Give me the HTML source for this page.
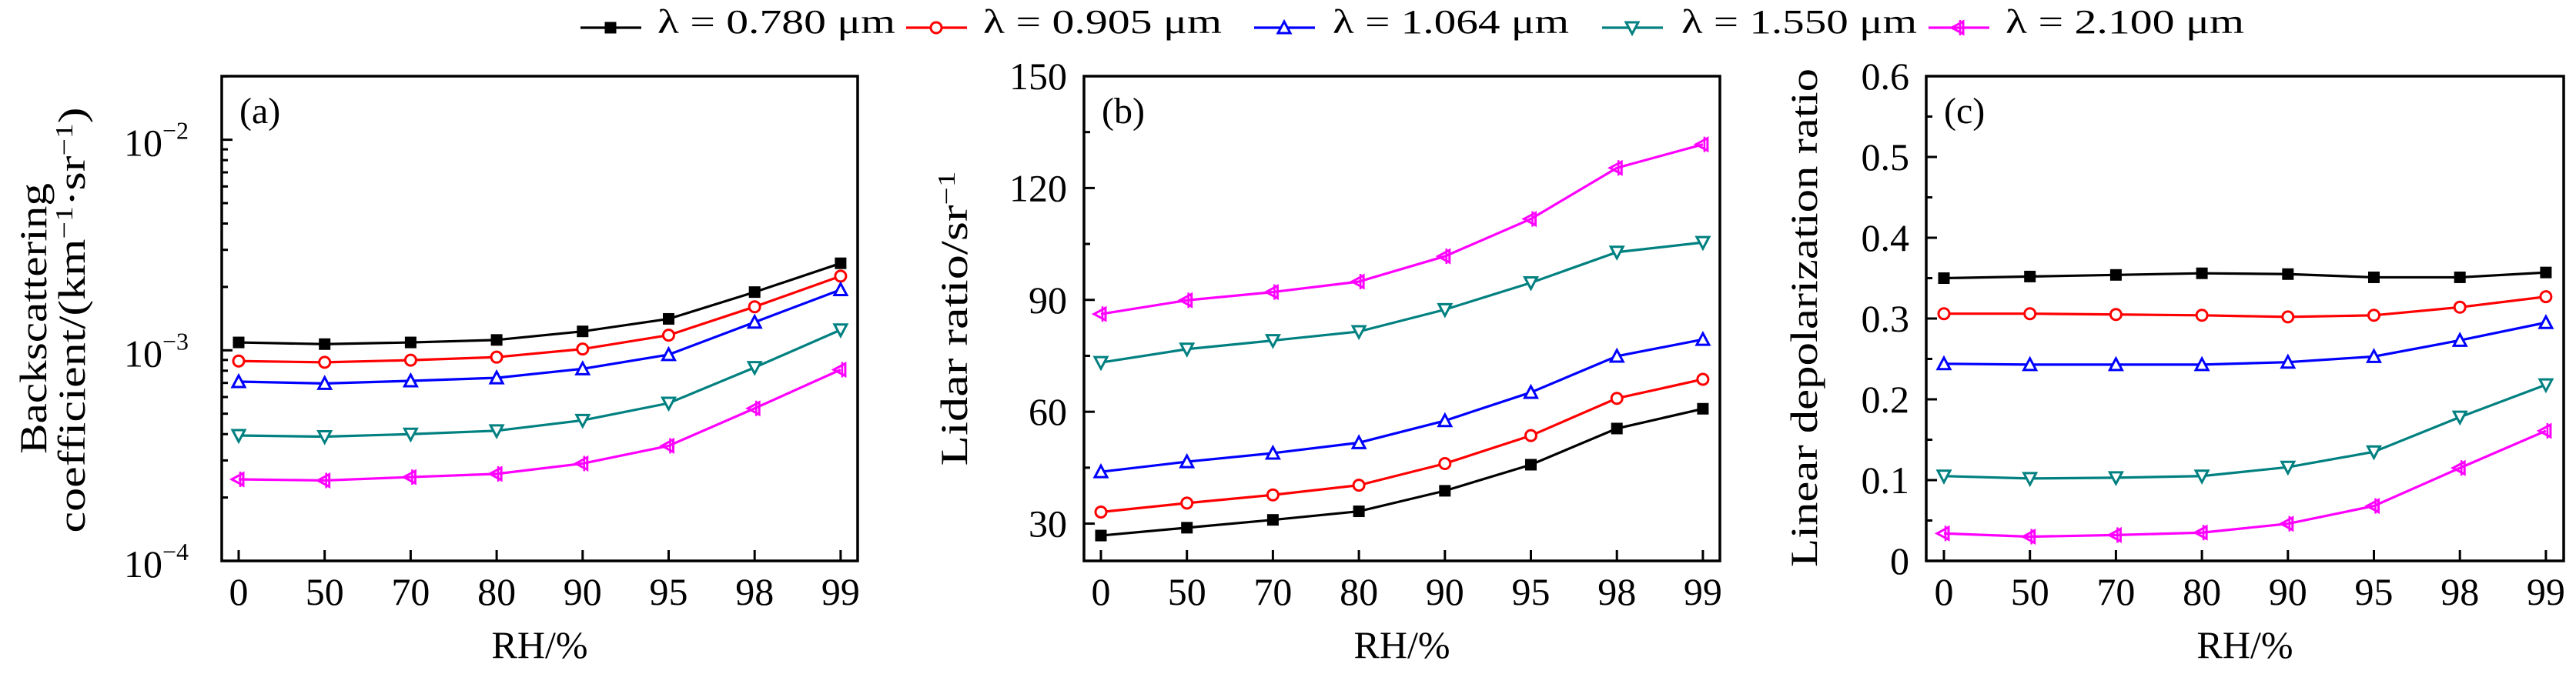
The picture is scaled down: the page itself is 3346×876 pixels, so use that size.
<!DOCTYPE html>
<html><head><meta charset="utf-8"><style>
html,body{margin:0;padding:0;background:#fff;}
svg{display:block;font-family:"Liberation Serif",serif;}
svg text{font-family:"Liberation Serif","DejaVu Serif",serif;}
</style></head><body>
<svg id="fig" width="3346" height="876" viewBox="0 0 3346 876" xmlns="http://www.w3.org/2000/svg">
<g id="legend"></g>
<g id="pa"></g>
<g id="pb"></g>
<g id="pc"></g>
</svg>
<script>
const categories = ["0","50","70","80","90","95","98","99"];
const seriesNames = ["λ = 0.780 μm","λ = 0.905 μm","λ = 1.064 μm","λ = 1.550 μm","λ = 2.100 μm"];
const colors = ["#000000","#ff0000","#0000ff","#008080","#ff00ff"];
const markers = ["square","circle","up","down","left"];
// panel a: backscattering coefficient (km^-1 sr^-1)
const back780 = [1.09e-3,1.07e-3,1.09e-3,1.12e-3,1.23e-3,1.41e-3,1.89e-3,2.59e-3];
const back905 = [0.889e-3,0.877e-3,0.898e-3,0.928e-3,1.014e-3,1.18e-3,1.61e-3,2.25e-3];
const back1064 = [0.710e-3,0.696e-3,0.716e-3,0.740e-3,0.817e-3,0.954e-3,1.36e-3,1.94e-3];
const back1550 = [0.394e-3,0.389e-3,0.400e-3,0.415e-3,0.465e-3,0.561e-3,0.829e-3,1.25e-3];
const back2100 = [0.244e-3,0.241e-3,0.250e-3,0.259e-3,0.290e-3,0.352e-3,0.530e-3,0.809e-3];
// panel b: lidar ratio (sr^-1)
const lr780 = [26.8,28.9,31.0,33.3,38.8,45.8,55.5,60.8];
const lr905 = [33.1,35.5,37.7,40.3,46.1,53.6,63.6,68.7];
const lr1064 = [43.9,46.6,48.9,51.7,57.6,65.2,74.9,79.4];
const lr1550 = [73.2,76.8,79.1,81.5,87.4,94.6,102.8,105.4];
const lr2100 = [86.2,89.9,92.1,94.9,101.7,111.7,125.4,131.7];
// panel c: linear depolarization ratio
const dp780 = [0.350,0.352,0.354,0.356,0.355,0.351,0.351,0.357];
const dp905 = [0.306,0.306,0.305,0.304,0.302,0.304,0.314,0.327];
const dp1064 = [0.244,0.243,0.243,0.243,0.246,0.253,0.273,0.295];
const dp1550 = [0.105,0.102,0.103,0.105,0.116,0.135,0.178,0.218];
const dp2100 = [0.034,0.030,0.032,0.035,0.046,0.068,0.115,0.161];
const ticksB = [30,60,90,120,150];
const ticksC = [0,0.1,0.2,0.3,0.4,0.5,0.6];
const ticksA = [-4,-3,-2];

const NS="http://www.w3.org/2000/svg";
function mk(parent,tag,attrs,text){const e=document.createElementNS(NS,tag);for(const k in attrs)e.setAttribute(k,attrs[k]);if(text!==undefined)e.textContent=text;parent.appendChild(e);return e;}

function marker(g,type,x,y,c){
  let e;const s=7.5;
  if(type==="square"){e=mk(g,"rect",{x:x-s,y:y-s,width:2*s,height:2*s,fill:c});}
  else if(type==="circle"){e=mk(g,"circle",{cx:x,cy:y,r:7,fill:"#fff",stroke:c,"stroke-width":3});}
  else if(type==="up"){e=mk(g,"polygon",{points:`${x},${y-8} ${x+8},${y+7} ${x-8},${y+7}`,fill:"#fff",stroke:c,"stroke-width":3});}
  else if(type==="down"){e=mk(g,"polygon",{points:`${x},${y+8} ${x+8},${y-7} ${x-8},${y-7}`,fill:"#fff",stroke:c,"stroke-width":3});}
  else {e=mk(g,"g",{});mk(e,"polygon",{points:`${x-9},${y} ${x+6},${y-8} ${x+6},${y+8}`,fill:"none",stroke:c,"stroke-width":3});mk(e,"line",{x1:x+2,y1:y-10,x2:x+2,y2:y+10,stroke:c,"stroke-width":2.5});}
  
  
}

function panel(id,cfg){
  const g=document.getElementById(id);
  const L=cfg.left,R=cfg.right,T=99,B=729,x0=cfg.x0,step=111.7;
  const xs=i=>x0+i*step;
  const ys=cfg.ys;
  cfg.series.forEach((arr,si)=>{
    const sg=mk(g,"g",{});
    
    
    mk(sg,"polyline",{points:arr.map((v,i)=>xs(i)+","+ys(v)).join(" "),fill:"none",stroke:colors[si],"stroke-width":3.2});
    arr.forEach((v,i)=>marker(sg,markers[si],xs(i),ys(v),colors[si]));
  });
  const fr=mk(g,"rect",{x:L,y:T,width:R-L,height:B-T,fill:"none",stroke:"#000","stroke-width":3.5});
  
  
  categories.forEach((c,i)=>{
    mk(g,"line",{x1:xs(i),y1:B,x2:xs(i),y2:B-14,stroke:"#000","stroke-width":3});
    const t=mk(g,"text",{x:xs(i),y:786,"font-size":50,"text-anchor":"middle"},c);
    
    
  });
  const xt=mk(g,"text",{x:(L+R)/2,y:855,"font-size":50,"text-anchor":"middle"},"RH/%");
  
  
  const pl=mk(g,"text",{x:L+23,y:160,"font-size":48},cfg.label);
  
  
  cfg.yticks(g,L,ys);
}

function linTicks(ticks,minors,fmt,labelX){
  return (g,L,ys)=>{
    minors.forEach(v=>mk(g,"line",{x1:L,y1:ys(v),x2:L+8,y2:ys(v),stroke:"#000","stroke-width":3}));
    ticks.forEach(v=>{
      mk(g,"line",{x1:L,y1:ys(v),x2:L+14,y2:ys(v),stroke:"#000","stroke-width":3});
      const t=mk(g,"text",{x:labelX,y:ys(v)+17,"font-size":50,"text-anchor":"end"},fmt(v));
      
      
    });
  };
}

const ysA=v=>729-(Math.log10(v)+4)*273.7;
panel("pa",{left:288,right:1114,x0:310,label:"(a)",ys:ysA,
  series:[back780,back905,back1064,back1550,back2100],
  yticks:(g,L,ys)=>{
    for(let d=-4;d<=-2;d++)for(let m=2;m<=9;m++){const v=m*Math.pow(10,d);const y=ys(v);if(y>99)mk(g,"line",{x1:L,y1:y,x2:L+8,y2:y,stroke:"#000","stroke-width":3});}
    ticksA.forEach(e=>{
      const y=ys(Math.pow(10,e));
      mk(g,"line",{x1:L,y1:y,x2:L+14,y2:y,stroke:"#000","stroke-width":3});
      const t=mk(g,"text",{x:161,y:y+21,"font-size":50},"10");
      
      
      mk(t,"tspan",{dy:-22,"font-size":32},"−"+(-e));
    });
  }});
const ta1=mk(document.getElementById("pa"),"text",{transform:"translate(60,414) rotate(-90)","font-size":50,"text-anchor":"middle",textLength:352,lengthAdjust:"spacingAndGlyphs"},"Backscattering");


const ta2=mk(document.getElementById("pa"),"text",{transform:"translate(110,416) rotate(-90)","font-size":50,"text-anchor":"middle",textLength:553,lengthAdjust:"spacingAndGlyphs"});


mk(ta2,"tspan",{},"coefficient/(km");mk(ta2,"tspan",{dy:-16,"font-size":32},"−1");mk(ta2,"tspan",{dy:16},"·sr");mk(ta2,"tspan",{dy:-16,"font-size":32},"−1");mk(ta2,"tspan",{dy:16},")");

const ysB=v=>729-(v-20)*(630/130);
panel("pb",{left:1408,right:2234,x0:1430,label:"(b)",ys:ysB,
  series:[lr780,lr905,lr1064,lr1550,lr2100],
  yticks:linTicks(ticksB,[45,75,105,135],v=>String(v),1386)});
const tb=mk(document.getElementById("pb"),"text",{transform:"translate(1256,414) rotate(-90)","font-size":50,"text-anchor":"middle",textLength:383,lengthAdjust:"spacingAndGlyphs"});


mk(tb,"tspan",{},"Lidar ratio/sr");mk(tb,"tspan",{dy:-16,"font-size":32},"−1");

const ysC=v=>729-v*(630/0.6);
panel("pc",{left:2502,right:3330,x0:2525,label:"(c)",ys:ysC,
  series:[dp780,dp905,dp1064,dp1550,dp2100],
  yticks:linTicks(ticksC,[0.05,0.15,0.25,0.35,0.45,0.55],v=>v===0?"0":v.toFixed(1),2480)});
const tc=mk(document.getElementById("pc"),"text",{transform:"translate(2360,413) rotate(-90)","font-size":50,"text-anchor":"middle",textLength:648,lengthAdjust:"spacingAndGlyphs"},"Linear depolarization ratio");



const lg=document.getElementById("legend");
const legLine=[754,1177,1629,2081,2505];
const legText=[[854,309],[1277,310],[1731,307],[2184,306],[2605,310]];
seriesNames.forEach((n,i)=>{
  const eg=mk(lg,"g",{});
  
  
  mk(eg,"line",{x1:legLine[i],y1:36,x2:legLine[i]+79,y2:36,stroke:colors[i],"stroke-width":3.2});
  marker(eg,markers[i],legLine[i]+39,36,colors[i]);
  mk(eg,"text",{x:legText[i][0],y:43,"font-size":44,textLength:legText[i][1],lengthAdjust:"spacingAndGlyphs"},n);
});
</script>
</body></html>
